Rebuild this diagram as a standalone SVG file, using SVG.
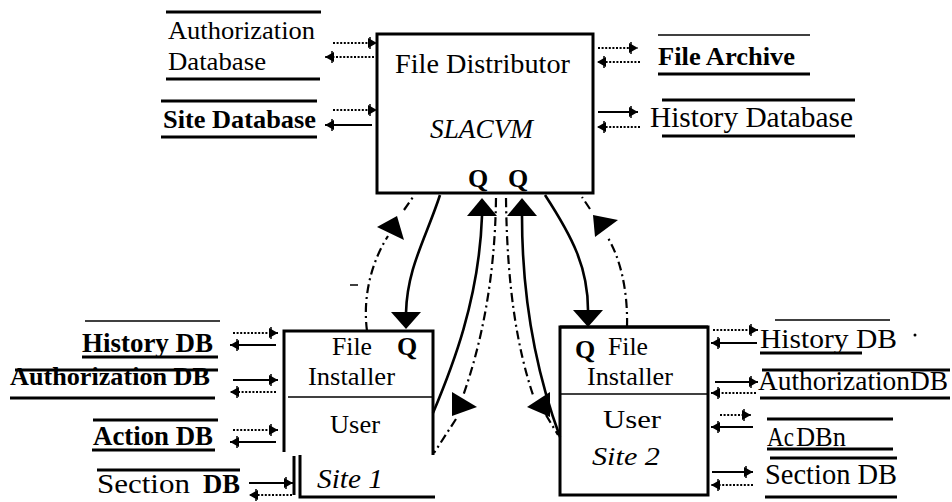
<svg xmlns="http://www.w3.org/2000/svg" width="952" height="502" viewBox="0 0 952 502" font-family="'Liberation Serif', serif">
  <defs>
    <!-- small feathered arrowhead for the data-store links -->
    <marker id="tip" viewBox="-11 -7 13 14" markerWidth="13" markerHeight="14" refX="0" refY="0" orient="auto" markerUnits="userSpaceOnUse">
      <path d="M-9,-5 L0,0 L-9,5 Z" fill="#000"/>
      <path d="M-7,-6 V6" stroke="#000" stroke-width="1.5"/>
    </marker>
  </defs>
  <style>
    text { font-family: 'Liberation Serif', serif; fill: #000; }
    .b { font-weight: bold; }
    .i { font-style: italic; }
    .box { fill: none; stroke: #000; stroke-width: 3; }
    .rule { stroke: #000; stroke-width: 3; fill: none; }
    .thin { stroke: #000; stroke-width: 1.5; fill: none; }
    .ln { stroke: #000; stroke-width: 1.8; fill: none; marker-end: url(#tip); }
    .dot { stroke-dasharray: 2 1.6; }
    .flow { stroke: #000; stroke-width: 2.6; fill: none; }
    .ctl { stroke: #000; stroke-width: 2.2; fill: none; stroke-dasharray: 9 4 2 4; }
    .head { fill: #000; }
  </style>

  <rect width="952" height="502" fill="#fff"/>

  <!-- central distributor -->
  <g id="file-distributor">
    <rect class="box" x="377" y="34" width="216" height="159"/>
    <text x="395" y="73" font-size="28" textLength="175" lengthAdjust="spacingAndGlyphs">File Distributor</text>
    <text class="i" x="430" y="138" font-size="27" textLength="103" lengthAdjust="spacingAndGlyphs">SLACVM</text>
    <text class="b" x="468" y="187" font-size="26">Q</text>
    <text class="b" x="508" y="187" font-size="26">Q</text>
  </g>

  <!-- distributor data stores -->
  <g id="authorization-database">
    <line class="rule" x1="166" y1="12" x2="321" y2="12"/>
    <line class="rule" x1="166" y1="79" x2="320" y2="79"/>
    <text x="168" y="39" font-size="26" textLength="147" lengthAdjust="spacingAndGlyphs">Authorization</text>
    <text x="168" y="70" font-size="26" textLength="98" lengthAdjust="spacingAndGlyphs">Database</text>
  </g>
  <g id="site-database">
    <line class="rule" x1="161" y1="101" x2="317" y2="101"/>
    <line class="rule" x1="161" y1="137" x2="317" y2="137"/>
    <text class="b" x="163" y="128" font-size="26" textLength="153" lengthAdjust="spacingAndGlyphs">Site Database</text>
  </g>
  <g id="file-archive">
    <line class="thin" x1="658" y1="35" x2="810" y2="35"/>
    <line class="rule" x1="658" y1="74" x2="810" y2="74"/>
    <text class="b" x="658" y="65" font-size="26" textLength="137" lengthAdjust="spacingAndGlyphs">File Archive</text>
  </g>
  <g id="history-database">
    <line class="rule" x1="662" y1="100" x2="855" y2="100"/>
    <line class="rule" x1="662" y1="136" x2="855" y2="136"/>
    <text x="650" y="127" font-size="29" textLength="203" lengthAdjust="spacingAndGlyphs">History Database</text>
  </g>

  <!-- site 1 installer -->
  <g id="site1-installer">
    <path class="box" d="M284,452 V331 H433 V455"/>
    <line class="thin" x1="288" y1="397" x2="433" y2="397"/>
    <path class="box" d="M300,455 V497 H435"/>
    <line class="rule" x1="294" y1="456" x2="294" y2="495"/>
    <text x="332" y="355" font-size="26" textLength="40" lengthAdjust="spacingAndGlyphs">File</text>
    <text class="b" x="397" y="355" font-size="26">Q</text>
    <text x="308" y="385" font-size="26" textLength="87" lengthAdjust="spacingAndGlyphs">Installer</text>
    <text x="330" y="433" font-size="26" textLength="50" lengthAdjust="spacingAndGlyphs">User</text>
    <text class="i" x="317" y="488" font-size="27" textLength="66" lengthAdjust="spacingAndGlyphs">Site 1</text>
  </g>
  <g id="site1-history-db">
    <line class="thin" x1="85" y1="321" x2="220" y2="321"/>
    <line class="rule" x1="82" y1="357" x2="218" y2="357"/>
    <text class="b" x="82" y="352" font-size="27" textLength="131" lengthAdjust="spacingAndGlyphs">History DB</text>
  </g>
  <g id="site1-authorization-db">
    <line class="rule" x1="15" y1="370" x2="218" y2="370"/>
    <line class="rule" x1="10" y1="398" x2="215" y2="398"/>
    <text class="b" x="10" y="385" font-size="26" textLength="200" lengthAdjust="spacingAndGlyphs">Authorization DB</text>
  </g>
  <g id="site1-action-db">
    <line class="rule" x1="93" y1="420" x2="218" y2="420"/>
    <line class="rule" x1="92" y1="450" x2="215" y2="450"/>
    <text class="b" x="93" y="445" font-size="27" textLength="120" lengthAdjust="spacingAndGlyphs">Action DB</text>
  </g>
  <g id="site1-section-db">
    <line class="rule" x1="97" y1="470" x2="240" y2="470"/>
    <text x="97" y="493" font-size="28" textLength="93" lengthAdjust="spacingAndGlyphs">Section</text>
    <text class="b" x="203" y="493" font-size="27" textLength="37" lengthAdjust="spacingAndGlyphs">DB</text>
  </g>

  <!-- site 2 installer -->
  <g id="site2-installer">
    <rect class="box" x="560" y="327" width="148" height="168"/>
    <line class="rule" x1="560" y1="327" x2="708" y2="327" stroke-width="4"/>
    <line class="thin" x1="560" y1="394" x2="708" y2="394"/>
    <text class="b" x="575" y="358" font-size="26">Q</text>
    <text x="608" y="355" font-size="26" textLength="40" lengthAdjust="spacingAndGlyphs">File</text>
    <text x="587" y="385" font-size="26" textLength="86" lengthAdjust="spacingAndGlyphs">Installer</text>
    <text x="603" y="428" font-size="26" textLength="58" lengthAdjust="spacingAndGlyphs">User</text>
    <text class="i" x="592" y="465" font-size="26" textLength="68" lengthAdjust="spacingAndGlyphs">Site 2</text>
  </g>
  <g id="site2-history-db">
    <line class="thin" x1="775" y1="320" x2="890" y2="320"/>
    <line class="rule" x1="760" y1="353" x2="862" y2="353"/>
    <text x="760" y="348" font-size="28" textLength="137" lengthAdjust="spacingAndGlyphs">History DB</text>
    <circle cx="915" cy="335" r="1.5" fill="#000"/>
  </g>
  <g id="site2-authorization-db">
    <line class="rule" x1="762" y1="370" x2="950" y2="370"/>
    <line class="rule" x1="760" y1="398" x2="950" y2="398"/>
    <text x="758" y="390" font-size="27.5" textLength="190" lengthAdjust="spacingAndGlyphs">AuthorizationDB</text>
  </g>
  <g id="site2-action-db">
    <line class="rule" x1="767" y1="419" x2="893" y2="419"/>
    <line class="rule" x1="767" y1="449" x2="893" y2="449"/>
    <text x="767" y="446" font-size="27" textLength="27" lengthAdjust="spacingAndGlyphs">Ac</text>
    <text x="796" y="446" font-size="27" textLength="50" lengthAdjust="spacingAndGlyphs">DBn</text>
  </g>
  <g id="site2-section-db">
    <line class="rule" x1="770" y1="458" x2="897" y2="458"/>
    <line class="rule" x1="765" y1="497" x2="897" y2="497"/>
    <text x="765" y="484" font-size="28.5" textLength="132" lengthAdjust="spacingAndGlyphs">Section DB</text>
  </g>

  <!-- connectors -->
  <g id="connectors">
    <!-- distributor store links -->
    <line class="ln dot" x1="333" y1="43" x2="377" y2="43"/>
    <line class="ln dot" x1="374" y1="57" x2="325" y2="57"/>
    <line class="ln dot" x1="333" y1="110" x2="377" y2="110"/>
    <line class="ln" x1="372" y1="125" x2="325" y2="125"/>
    <line class="ln dot" x1="598" y1="48" x2="638" y2="48"/>
    <line class="ln dot" x1="640" y1="62" x2="597" y2="62"/>
    <line class="ln" x1="598" y1="112" x2="638" y2="112"/>
    <line class="ln dot" x1="640" y1="127" x2="597" y2="127"/>

    <!-- site 1 store links -->
    <line class="ln dot" x1="233" y1="333" x2="278" y2="333"/>
    <line class="ln" x1="276" y1="345" x2="230" y2="345"/>
    <line class="ln" x1="233" y1="380" x2="278" y2="380"/>
    <line class="ln dot" x1="276" y1="392" x2="230" y2="392"/>
    <line class="ln dot" x1="233" y1="430" x2="278" y2="430"/>
    <line class="ln" x1="276" y1="442" x2="230" y2="442"/>
    <line class="ln" x1="249" y1="483" x2="293" y2="483"/>
    <line class="ln dot" x1="292" y1="495" x2="249" y2="495"/>

    <!-- site 2 store links -->
    <line class="ln dot" x1="713" y1="330" x2="758" y2="330"/>
    <line class="ln" x1="757" y1="343" x2="711" y2="343"/>
    <line class="ln" x1="715" y1="382" x2="758" y2="382"/>
    <line class="ln dot" x1="756" y1="393" x2="711" y2="393"/>
    <line class="ln dot" x1="720" y1="415" x2="751" y2="415"/>
    <line class="ln" x1="753" y1="427" x2="711" y2="427"/>
    <line class="ln" x1="712" y1="472" x2="753" y2="472"/>
    <line class="ln dot" x1="753" y1="485" x2="711" y2="485"/>

    <!-- distributor to site 1 -->
    <path class="flow" d="M440,195 C426,238 407,268 406,313"/>
    <polygon class="head" points="391,312 421,312 406,329"/>
    <path class="ctl" d="M367,331 C362,292 374,258 388,236"/>
    <polygon class="head" points="377,227 397,216 404,240"/>
    <path class="ctl" d="M404,210 L413,197"/>
    <line class="thin" x1="350" y1="285" x2="358" y2="285"/>
    <path class="flow" d="M433,413 C452,368 479,300 482,216"/>
    <polygon class="head" points="467,216 497,216 482,198"/>
    <path class="ctl" d="M496,198 C495,280 481,345 463,396 M456,419 L434,453"/>
    <polygon class="head" points="452,392 477,407 452,416"/>

    <!-- distributor to site 2 -->
    <path class="flow" d="M522,216 C522,300 536,372 560,437"/>
    <polygon class="head" points="507,216 537,216 522,198"/>
    <path class="ctl" d="M506,198 C507,290 518,350 533,395 M546,415 L558,435"/>
    <polygon class="head" points="527,407 550,392 550,417"/>
    <path class="flow" d="M545,195 C573,238 588,268 588,310"/>
    <polygon class="head" points="573,310 603,310 588,327"/>
    <path class="ctl" d="M627,327 C628,290 620,258 608,238"/>
    <polygon class="head" points="593,215 618,220 595,237"/>
    <path class="ctl" d="M590,209 L582,197"/>
  </g>
</svg>
